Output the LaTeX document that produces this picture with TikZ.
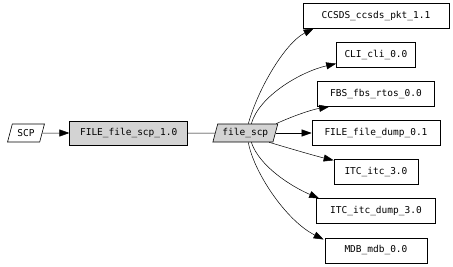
\documentclass[tikz,border=0pt]{standalone}
\usepackage{fontspec}
\setmonofont{DejaVu Sans Mono}
\usepackage{tikz}
\usetikzlibrary{arrows.meta,positioning,shapes.geometric}
\definecolor{nodegray}{HTML}{D3D3D3}

\begin{document}
\begin{tikzpicture}[
  x=1pt, y=1pt,
  box/.style={rectangle, draw, line width=0.6pt, minimum height=25pt, inner sep=2pt, font=\ttfamily\fontsize{9.5}{11}\selectfont},
  io/.style={trapezium, trapezium left angle=70, trapezium right angle=110, trapezium stretches=true, draw, line width=0.6pt, minimum height=18pt, inner sep=1pt, font=\ttfamily\fontsize{9.5}{11}\selectfont},
  link/.style={-{Triangle[length=10pt,width=7pt]}, line width=0.5pt}
]
  \useasboundingbox (0,0) rectangle (453,266);

  % chain on the left
  \node[io, minimum width=37pt] (scp) at (26,133) {SCP};
  \node[box, fill=nodegray, minimum width=118pt, minimum height=24pt, right=27pt of scp] (fscpver) {FILE\_file\_scp\_1.0};
  \node[io, fill=nodegray, minimum width=65pt, right=27pt of fscpver] (fscp) {file\_scp};

  % column of targets
  \node[box, minimum width=128pt, right=36pt of fscp] (fdump) {FILE\_file\_dump\_0.1};
  \node[box, minimum width=117pt, above=13.5pt of fdump] (fbs) {FBS\_fbs\_rtos\_0.0};
  \node[box, minimum width=79pt, above=13.5pt of fbs] (cli) {CLI\_cli\_0.0};
  \node[box, minimum width=146pt, above=13.5pt of cli] (ccsds) {CCSDS\_ccsds\_pkt\_1.1};
  \node[box, minimum width=84pt, below=13.5pt of fdump] (itc) {ITC\_itc\_3.0};
  \node[box, minimum width=119pt, below=13.5pt of itc] (itcdump) {ITC\_itc\_dump\_3.0};
  \node[box, minimum width=102pt, below=13.5pt of itcdump] (mdb) {MDB\_mdb\_0.0};

  \draw[link] (scp) -- (fscpver);
  \draw[line width=0.5pt] (fscpver) -- (fscp);

  \draw[link] ([xshift=3pt]fscp.north) .. controls +(10,36) and +(-28,-14) .. ([xshift=11pt]ccsds.south west);
  \draw[link] ([xshift=6pt]fscp.north) .. controls +(8,28) and +(-35,-8) .. ([yshift=4pt]cli.south west);
  \draw[link] ([xshift=-2pt]fscp.top right corner) .. controls +(15,7) and +(-18,-3) .. ([xshift=12pt]fbs.south west);
  \draw[link] (fscp.east) -- (fdump.west);
  \draw[link] ([xshift=-4pt]fscp.bottom right corner) .. controls +(20,-6) and +(-17,4) .. ([yshift=-1pt]itc.north west);
  \draw[link] ([xshift=6pt]fscp.south) .. controls +(8,-24) and +(-28,12) .. ([xshift=3pt]itcdump.north west);
  \draw[link] ([xshift=3pt]fscp.south) .. controls +(5,-29) and +(-38,19) .. ([xshift=-1pt,yshift=-2pt]mdb.north west);
\end{tikzpicture}
\end{document}
